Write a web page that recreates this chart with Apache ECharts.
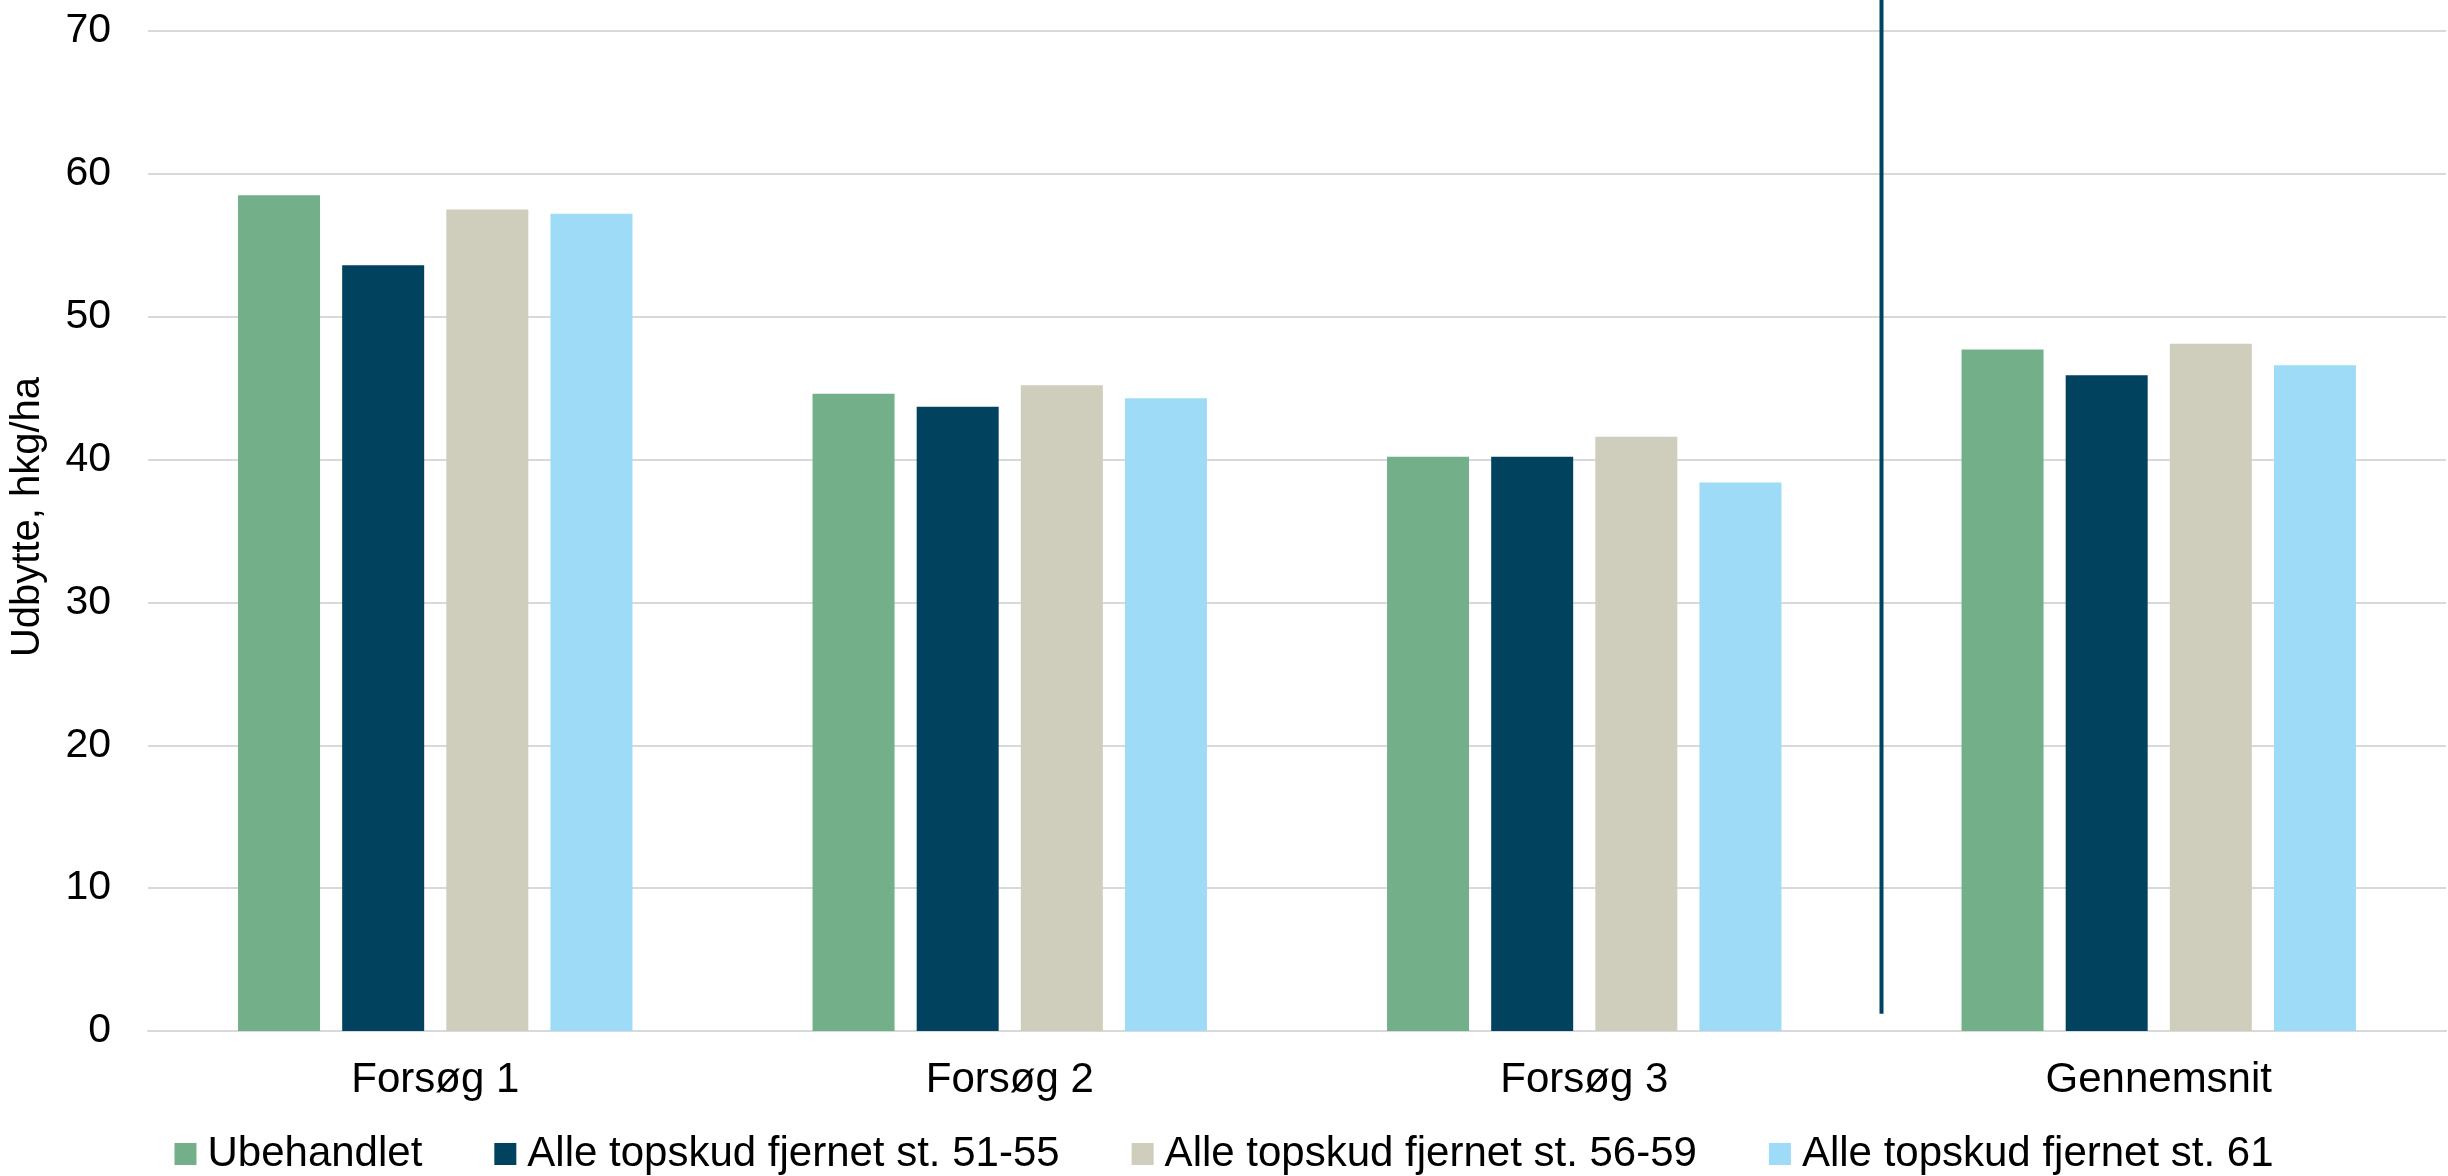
<!DOCTYPE html>
<html>
<head>
<meta charset="utf-8">
<script src="https://cdn.jsdelivr.net/npm/echarts@6/dist/echarts.min.js"></script>
<style>
  html, body { margin: 0; padding: 0; background: #ffffff; }
  #chart { width: 2448px; height: 1176px; }
</style>
</head>
<body>
<div id="chart"></div>
<script>
// Udbytte (hkg/ha) per forsøg og gennemsnit
const categories = ['Forsøg 1', 'Forsøg 2', 'Forsøg 3', 'Gennemsnit'];
const seriesNames = [
  'Ubehandlet',
  'Alle topskud fjernet st. 51-55',
  'Alle topskud fjernet st. 56-59',
  'Alle topskud fjernet st. 61'
];
const ubehandlet = [58.5, 44.6, 40.2, 47.7];
const fjernet5155 = [53.6, 43.7, 40.2, 45.9];
const fjernet5659 = [57.5, 45.2, 41.6, 48.1];
const fjernet61 = [57.2, 44.3, 38.4, 46.6];
const yTicks = { min: 0, max: 70, step: 10 };
// separator between the trials and the average, drawn down to this value
const separatorBottomValue = 1.2;

const colors = ['#73AF89', '#01435E', '#CFCDBB', '#9EDBF7'];
const FONT = '"Liberation Sans", Arial, sans-serif';

const chart = echarts.init(document.getElementById('chart'), null, { renderer: 'canvas' });

const values = [ubehandlet, fjernet5155, fjernet5659, fjernet61];
const series = seriesNames.map((name, i) => ({
  name: name,
  type: 'bar',
  data: values[i],
  barWidth: 82,
  barGap: '27%',
  itemStyle: { color: colors[i] },
  emphasis: { disabled: true }
}));

chart.setOption({
  animation: false,
  backgroundColor: '#ffffff',
  textStyle: { fontFamily: FONT },
  grid: { left: 148, right: 2, top: 31, bottom: 145, containLabel: false },
  legend: {
    data: seriesNames,
    top: 1128,
    left: 'center',
    itemWidth: 22,
    itemHeight: 22,
    itemGap: 72,
    icon: 'rect',
    textStyle: { fontFamily: FONT, fontSize: 42, color: '#000000', padding: [0, 0, 0, 6] },
    selectedMode: false
  },
  xAxis: {
    type: 'category',
    data: categories,
    axisTick: { show: false },
    axisLine: { show: true, lineStyle: { color: '#D9D9D9', width: 2 } },
    axisLabel: { fontFamily: FONT, fontSize: 42, color: '#000000', margin: 28 }
  },
  yAxis: {
    type: 'value',
    min: yTicks.min,
    max: yTicks.max,
    interval: yTicks.step,
    name: 'Udbytte, hkg/ha',
    nameLocation: 'middle',
    nameGap: 100,
    nameRotate: 90,
    nameTextStyle: { fontFamily: FONT, fontSize: 40, color: '#000000', padding: [0, 0, 0, 28] },
    axisLine: { show: false },
    axisTick: { show: false },
    splitLine: { lineStyle: { color: '#D9D9D9', width: 2 } },
    axisLabel: { fontFamily: FONT, fontSize: 41, color: '#000000', margin: 37 }
  },
  series: series
});

// Vertical separator between the individual trials and the average
const c3 = chart.convertToPixel({ xAxisIndex: 0 }, categories[2]);
const c4 = chart.convertToPixel({ xAxisIndex: 0 }, categories[3]);
const sepX = (c3 + c4) / 2 + 10;
const sepBottom = chart.convertToPixel({ yAxisIndex: 0 }, separatorBottomValue);
chart.setOption({
  graphic: [{
    type: 'line',
    shape: { x1: sepX, y1: 0, x2: sepX, y2: sepBottom },
    style: { stroke: '#01435E', lineWidth: 4 },
    silent: true,
    z: 10
  }]
});
</script>
</body>
</html>
